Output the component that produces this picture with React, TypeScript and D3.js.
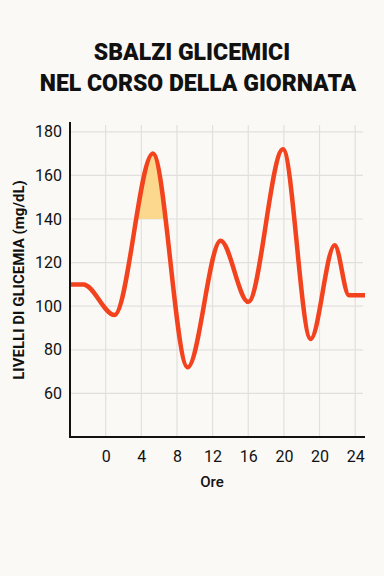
import React, { useEffect, useRef } from "react";
import * as d3 from "d3";

const hours = [-4, -2.5, 1, 5.3, 9.2, 12.9, 16, 19.9, 23, 25.7, 27.3, 29.1];
const glucose = [110, 110, 96, 170, 72, 130, 102, 172, 85, 128, 105, 105];
const xTickPos = [0, 4, 8, 12, 16, 20, 24, 28];
const xTickLabels = ["0", "4", "8", "12", "16", "20", "20", "24"];
const yTicks = [60, 80, 100, 120, 140, 160, 180];
const highlightFrom = 140;

const W = 384;
const H = 576;

const App = () => {
  const ref = useRef<SVGSVGElement>(null);

  useEffect(() => {
    const svg = d3.select(ref.current);
    svg.selectAll("*").remove();

    const x = d3.scaleLinear().domain([-4, 29.1]).range([70, 365]);
    const y = d3.scaleLinear().domain([40, 184.5]).range([437, 122]);
    const data = hours.map((h, i) => ({ h, v: glucose[i] }));

    svg.append("rect").attr("width", W).attr("height", H).attr("fill", "#faf9f6");

    // title
    const title = svg.append("text")
      .attr("text-anchor", "middle")
      .style("font-family", "Roboto, 'DejaVu Sans', sans-serif")
      .style("font-weight", "900")
      .style("font-size", "23px")
      .attr("fill", "#111");
    title.append("tspan").attr("x", 192).attr("y", 60).text("SBALZI GLICEMICI");
    title.append("tspan").attr("x", 198).attr("y", 91).text("NEL CORSO DELLA GIORNATA");

    // grid
    svg.append("g")
      .selectAll("line")
      .data(yTicks)
      .enter()
      .append("line")
      .attr("x1", 70).attr("x2", 363)
      .attr("y1", d => y(d)).attr("y2", d => y(d))
      .attr("stroke", "#e2e0dd").attr("stroke-width", 1.2);

    svg.append("g")
      .selectAll("line")
      .data(xTickPos)
      .enter()
      .append("line")
      .attr("x1", d => x(d)).attr("x2", d => x(d))
      .attr("y1", 125).attr("y2", 437)
      .attr("stroke", "#e2e0dd").attr("stroke-width", 1.2);

    // highlight under first peak
    const clip = svg.append("clipPath").attr("id", "peakClip");
    clip.append("rect")
      .attr("x", x(2.5)).attr("width", x(8) - x(2.5))
      .attr("y", 0).attr("height", y(highlightFrom));

    const area = d3.area<{ h: number; v: number }>()
      .x(d => x(d.h))
      .y0(y(highlightFrom))
      .y1(d => y(d.v))
      .curve(d3.curveMonotoneX);

    svg.append("path")
      .datum(data)
      .attr("d", area)
      .attr("fill", "#fbd88e")
      .attr("clip-path", "url(#peakClip)");

    // line
    const line = d3.line<{ h: number; v: number }>()
      .x(d => x(d.h))
      .y(d => y(d.v))
      .curve(d3.curveMonotoneX);

    svg.append("path")
      .datum(data)
      .attr("d", line)
      .attr("fill", "none")
      .attr("stroke", "#f2421e")
      .attr("stroke-width", 4.5)
      .attr("stroke-linejoin", "round");

    // axes
    const xAxis = d3.axisBottom(x)
      .tickValues(xTickPos)
      .tickSize(0)
      .tickPadding(14)
      .tickFormat((d, i) => xTickLabels[i]);
    const gx = svg.append("g")
      .attr("transform", `translate(0, 437)`)
      .call(xAxis);
    gx.select(".domain").remove();
    gx.selectAll("text")
      .style("font-family", "Roboto, sans-serif")
      .style("font-size", "16px")
      .attr("fill", "#111");

    const yAxis = d3.axisLeft(y)
      .tickValues(yTicks)
      .tickSize(0)
      .tickPadding(8);
    const gy = svg.append("g")
      .attr("transform", `translate(70, 0)`)
      .call(yAxis);
    gy.select(".domain").remove();
    gy.selectAll("text")
      .style("font-family", "Roboto, sans-serif")
      .style("font-size", "16px")
      .attr("fill", "#111");

    svg.append("line")
      .attr("x1", 70).attr("x2", 70).attr("y1", 122).attr("y2", 438)
      .attr("stroke", "#111").attr("stroke-width", 2);
    svg.append("line")
      .attr("x1", 69).attr("x2", 365).attr("y1", 437).attr("y2", 437)
      .attr("stroke", "#111").attr("stroke-width", 2);

    // axis labels
    svg.append("text")
      .attr("x", 212).attr("y", 487)
      .attr("text-anchor", "middle")
      .style("font-family", "Roboto, sans-serif")
      .style("font-weight", 500)
      .style("font-size", "15px")
      .attr("fill", "#111")
      .text("Ore");

    svg.append("text")
      .attr("transform", `translate(24, 280) rotate(-90)`)
      .attr("text-anchor", "middle")
      .style("font-family", "Roboto, sans-serif")
      .style("font-weight", "bold")
      .style("font-size", "15px")
      .attr("fill", "#111")
      .text("LIVELLI DI GLICEMIA (mg/dL)");
  }, []);

  return (
    <div style={{ position: "absolute", left: 0, top: 0 }}>
      <svg ref={ref} width={W} height={H} style={{ display: "block" }} />
    </div>
  );
};

export default App;
